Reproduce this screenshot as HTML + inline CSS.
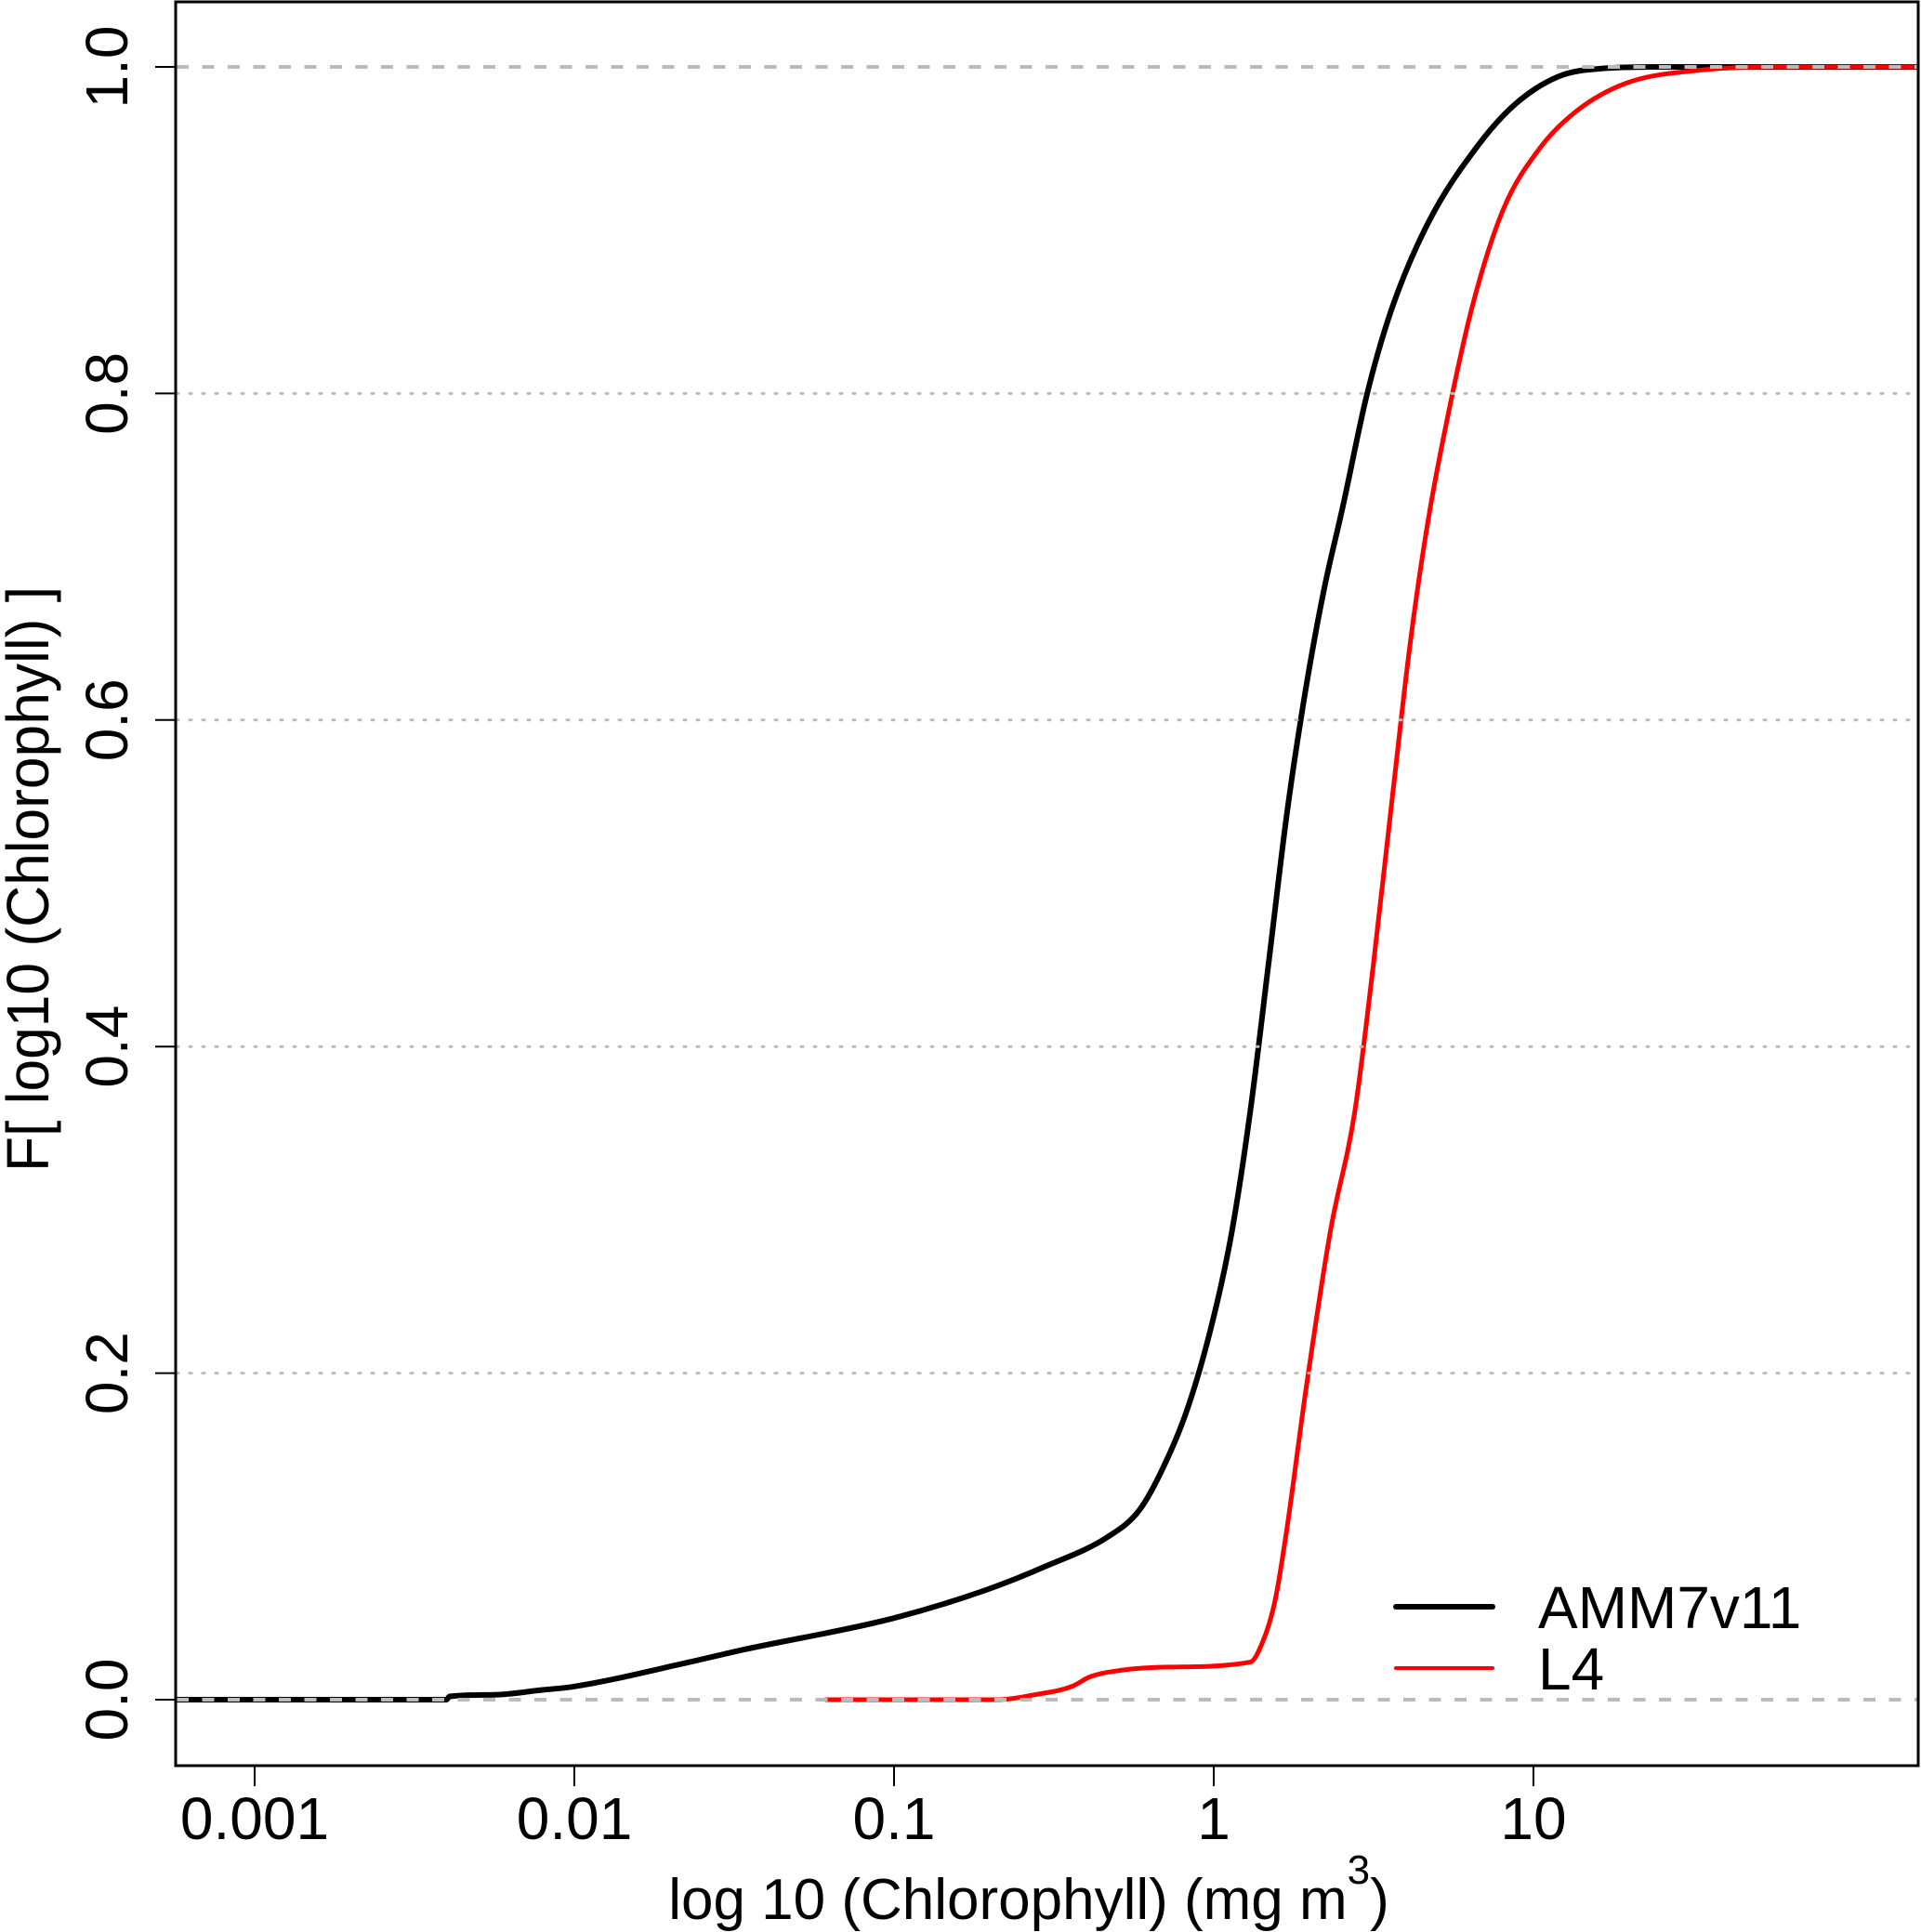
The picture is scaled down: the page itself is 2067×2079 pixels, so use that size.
<!DOCTYPE html>
<html><head><meta charset="utf-8"><style>
html,body{margin:0;padding:0;background:#fff;}
svg{display:block;font-family:"Liberation Sans",Arial,sans-serif;}
</style></head><body>
<svg id="chart" width="2067" height="2079" viewBox="0 0 2067 2079">
<rect x="0" y="0" width="2067" height="2079" fill="#fff"/>
<g id="series"></g>
<g id="grid"></g>
<rect x="189" y="2" width="1875" height="1898" fill="none" stroke="#000" stroke-width="3"/>
<g id="axes"></g>
<text x="1107" y="2065" font-size="62" text-anchor="middle">log 10 (Chlorophyll) (mg m<tspan font-size="44" dy="-38">3</tspan><tspan dy="38">)</tspan></text>
<text transform="translate(52,946) rotate(-90)" font-size="64" text-anchor="middle" textLength="630" lengthAdjust="spacingAndGlyphs">F[ log10 (Chlorophyll) ]</text>
<g>
<line x1="1502" y1="1729" x2="1606" y2="1729" stroke="#000" stroke-width="6" stroke-linecap="round"/>
<text x="1655" y="1752" font-size="64">AMM7v11</text>
<line x1="1502" y1="1795" x2="1606" y2="1795" stroke="#f00" stroke-width="4" stroke-linecap="round"/>
<text x="1655" y="1818" font-size="64">L4</text>
</g>
</svg>
<script>
const xTickVals = [-3, -2, -1, 0, 1];
const xTickLabels = ["0.001", "0.01", "0.1", "1", "10"];
const yTickVals = [0, 0.2, 0.4, 0.6, 0.8, 1.0];
const yTickLabels = ["0.0", "0.2", "0.4", "0.6", "0.8", "1.0"];
const ammLog = [-3.245,-2.40,-2.39,-2.25,-2.10,-2.002,-1.640,-1.486,-1.000,-0.715,-0.522,-0.329,-0.233,-0.156,-0.079,-0.002,0.056,0.114,0.171,0.229,0.287,0.345,0.403,0.480,0.557,0.672,0.827,0.942,1.077,1.212,1.405,2.202];
const ammF = [0,0,0.002,0.003,0.006,0.008,0.023,0.03,0.05,0.067,0.082,0.10,0.116,0.143,0.18,0.233,0.286,0.36,0.45,0.543,0.618,0.68,0.73,0.80,0.852,0.905,0.952,0.977,0.994,0.999,1.0,1.0];
const l4Log = [-1.216,-0.676,-0.561,-0.445,-0.387,-0.291,-0.137,0.114,0.141,0.191,0.229,0.287,0.364,0.441,0.499,0.557,0.615,0.672,0.730,0.807,0.904,1.019,1.135,1.289,1.520,1.790,2.202];
const l4F = [0,0,0.003,0.008,0.014,0.018,0.020,0.023,0.03,0.06,0.105,0.188,0.286,0.36,0.45,0.55,0.648,0.724,0.784,0.852,0.912,0.95,0.973,0.99,0.998,1.0,1.0];

const NS = "http://www.w3.org/2000/svg";
function xs(lv){ return 274 + (lv + 3) * 344; }
function ys(v){ return 1829 - v * 1757; }
function mk(tag, attrs, parent){
  const e = document.createElementNS(NS, tag);
  for (const k in attrs) e.setAttribute(k, attrs[k]);
  parent.appendChild(e);
  return e;
}
function monoPath(px, py){
  const n = px.length, d = [], m = [];
  for (let i = 0; i < n - 1; i++) d.push((py[i+1]-py[i])/(px[i+1]-px[i] || 1e-6));
  m[0] = d[0]; m[n-1] = d[n-2];
  for (let i = 1; i < n - 1; i++) m[i] = (d[i-1]*d[i] <= 0) ? 0 : (d[i-1]+d[i])/2;
  for (let i = 0; i < n - 1; i++) {
    if (d[i] === 0) { m[i] = 0; m[i+1] = 0; continue; }
    const a = m[i]/d[i], b = m[i+1]/d[i], s = a*a + b*b;
    if (s > 9) { const t = 3/Math.sqrt(s); m[i] = t*a*d[i]; m[i+1] = t*b*d[i]; }
  }
  let s = 'M' + px[0].toFixed(1) + ',' + py[0].toFixed(1);
  for (let i = 0; i < n - 1; i++) {
    const h = (px[i+1]-px[i]) / 3;
    s += 'C' + (px[i]+h).toFixed(1) + ',' + (py[i]+m[i]*h).toFixed(1) + ' ' +
         (px[i+1]-h).toFixed(1) + ',' + (py[i+1]-m[i+1]*h).toFixed(1) + ' ' +
         px[i+1].toFixed(1) + ',' + py[i+1].toFixed(1);
  }
  return s;
}
const series = document.getElementById('series');
function drawLine(lx, ly, color, w, name){
  const p = mk('path', {d: monoPath(lx.map(xs), ly.map(ys)), fill: 'none', stroke: color, 'stroke-width': w, 'stroke-linejoin': 'round'}, series);
  
  
}
drawLine(ammLog, ammF, '#000', 6, 'line-amm7v11');
drawLine(l4Log, l4F, '#f00', 5, 'line-l4');

const grid = document.getElementById('grid');
for (let i = 0; i < yTickVals.length; i++) {
  const v = yTickVals[i];
  const edge = (v === 0 || v === 1);
  const g = mk('line', {x1: 190, x2: 2063, y1: ys(v), y2: ys(v), stroke: '#bbb', 'stroke-width': edge ? 4 : 3,
    'stroke-dasharray': edge ? '13 14.5' : '2 12', 'stroke-linecap': edge ? 'butt' : 'round'}, grid);
  
  
}

const axes = document.getElementById('axes');
for (let i = 0; i < xTickVals.length; i++) {
  const x = xs(xTickVals[i]);
  const t = mk('line', {x1: x, x2: x, y1: 1900, y2: 1922, stroke: '#000', 'stroke-width': 2}, axes);
  
  
  const l = mk('text', {x: x, y: 1979, 'font-size': 64, 'text-anchor': 'middle'}, axes);
  l.textContent = xTickLabels[i];
  
  
}
for (let i = 0; i < yTickVals.length; i++) {
  const y = ys(yTickVals[i]);
  const t = mk('line', {x1: 167, x2: 189, y1: y, y2: y, stroke: '#000', 'stroke-width': 2}, axes);
  
  
  const l = mk('text', {transform: 'translate(137,' + y + ') rotate(-90)', 'font-size': 64, 'text-anchor': 'middle'}, axes);
  l.textContent = yTickLabels[i];
  
  
}
</script>
</body></html>
